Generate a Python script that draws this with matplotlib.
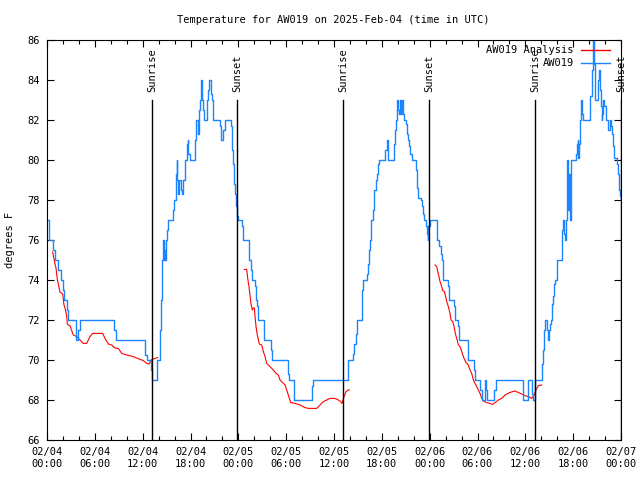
import numpy as np, pandas as pd
import matplotlib; matplotlib.use("Agg")
import matplotlib.pyplot as plt
import matplotlib.dates as mdates

# station observations (hours after 2025-02-04 00:00 UTC, deg F), drawn as steps
obs_hours = [0.00, 0.19, 0.31, 0.79, 0.97, 1.42, 1.72, 1.97, 2.13, 2.47, 2.63, 3.64, 3.93, 4.14,
             8.40, 8.66, 12.26, 12.33, 12.51, 13.05, 13.21, 13.84, 14.14, 14.21, 14.30, 14.47,
             14.59, 14.68, 14.76, 14.85, 14.93, 15.05, 15.22, 15.85, 15.97, 16.14, 16.27, 16.35,
             16.47, 16.60, 16.77, 16.90, 17.10, 17.31, 17.52, 17.65, 17.73, 17.94, 18.57, 18.65,
             18.98, 19.10, 19.19, 19.32, 19.40, 19.48, 19.61, 19.73, 20.11, 20.24, 20.36, 20.53,
             20.66, 20.78, 20.86, 21.70, 21.83, 22.12, 22.33, 23.04, 23.17, 23.29, 23.42, 23.58,
             23.71, 23.87, 24.00, 24.42, 24.55, 25.38, 25.55, 25.68, 26.09, 26.22, 26.38, 26.51,
             27.26, 28.10, 28.26, 30.19, 30.32, 30.98, 33.24, 33.41, 37.80, 38.42, 38.55, 38.72,
             38.85, 38.93, 39.48, 39.55, 39.68, 40.18, 40.31, 40.39, 40.52, 40.64, 40.93, 41.06,
             41.23, 41.36, 41.48, 41.65, 42.40, 42.61, 42.74, 42.82, 43.57, 43.65, 43.74, 43.86,
             43.94, 44.07, 44.19, 44.32, 44.41, 44.49, 44.70, 44.82, 45.00, 45.12, 45.25, 45.41,
             45.54, 45.75, 46.29, 46.38, 46.50, 46.92, 47.08, 47.21, 47.33, 47.50, 47.63, 47.76,
             47.84, 48.05, 48.96, 49.21, 49.38, 49.51, 49.72, 50.34, 50.43, 51.06, 51.18, 51.52,
             51.64, 52.77, 53.56, 53.69, 54.32, 54.53, 54.94, 55.07, 55.23, 56.11, 56.29, 59.67,
             59.75, 60.38, 60.80, 60.93, 61.15, 62.13, 62.26, 62.38, 62.47, 62.76, 62.86, 62.97,
             63.10, 63.22, 63.39, 63.52, 63.64, 63.72, 63.93, 64.01, 64.56, 64.64, 64.77, 64.89,
             64.98, 65.06, 65.18, 65.31, 65.39, 65.52, 65.61, 65.73, 66.32, 66.44, 66.57, 66.65,
             66.73, 66.86, 66.98, 67.07, 67.15, 67.27, 68.11, 68.33, 68.45, 68.57, 68.65, 68.74,
             69.08, 69.24, 69.37, 69.50, 69.58, 69.66, 69.78, 69.91, 70.08, 70.33, 70.62, 70.74,
             70.91, 71.04, 71.16, 71.46, 71.66, 71.79, 71.87, 72.00]
obs_temp = [77, 76.5, 76, 75.5, 75, 74.5, 74, 73.5, 73, 72.5, 72, 71, 71.5, 72,
            71.5, 71, 70.75, 70.25, 70, 69.5, 69, 70, 70.5, 71.5, 73, 75,
            76, 75, 75.5, 75, 76, 76.5, 77, 77.5, 78, 79.3, 80, 79,
            78.3, 79, 78.5, 78.3, 79, 80, 80.8, 81, 80.3, 80, 81, 82,
            81.3, 82.5, 83, 84, 83.5, 83, 82.5, 82, 83, 83.5, 84, 83.3,
            83, 82.5, 82, 81.7, 81, 81.5, 82, 81.7, 80.5, 79.8, 78.8, 78.3,
            77.7, 77.2, 77, 76.7, 76, 75, 74.5, 74, 73.7, 73, 72.7, 72,
            71, 70.5, 70, 69.3, 69, 68, 68.7, 69, 70, 70.3, 70.8, 71.3,
            71.8, 72, 72.5, 73.5, 74, 74.3, 74.8, 75.5, 76, 77, 77.5, 78.5,
            79, 79.3, 79.8, 80, 80.5, 81, 80.5, 80, 80.8, 81.5, 82, 82.5,
            83, 82.5, 82.3, 83, 82.3, 83, 82.3, 82, 81.8, 81.3, 81, 80.7,
            80.3, 80, 79.5, 78.6, 78.1, 78, 77.7, 77.3, 77, 76.7, 76.3, 76,
            76.7, 77, 76, 75.7, 75.3, 75, 74, 73.7, 73, 72.7, 72, 71.7,
            71, 70, 69.5, 69, 68.5, 68, 69, 68.5, 68, 68.5, 69, 68.5,
            68, 69, 68.3, 68, 69, 69.8, 70.5, 71.5, 72, 71.5, 71, 71.5,
            71.8, 72, 72.8, 73.2, 73.8, 74, 74.7, 75, 75.5, 76.5, 77, 76.3,
            76, 77, 80, 79.3, 77.5, 79.3, 77, 80, 80.3, 80.8, 81, 80.1,
            80.8, 82, 83, 82.7, 82.3, 82, 83.2, 84.5, 86, 86.5, 84.8, 83,
            84, 84.5, 83.5, 82.7, 82, 82.3, 83, 82.7, 82, 81.5, 82, 81.7,
            81.3, 80.7, 80.1, 79.8, 79.3, 78.5, 78.2, 78]

# analysis (three overnight pieces)
ana1_hours = [0.71, 1.00, 1.13, 1.30, 1.42, 1.63, 1.97, 2.13, 2.26, 2.47, 2.55, 2.89, 3.30, 3.73,
              4.14, 4.56, 4.98, 5.39, 5.73, 6.98, 7.28, 7.69, 8.12, 8.53, 8.95, 9.37, 10.00,
              10.83, 11.67, 12.08, 12.51, 12.80, 13.05, 13.55, 13.89]
ana1_temp = [75.4, 74.8, 74.6, 74.0, 73.8, 73.4, 73.3, 72.75, 72.6, 72.2, 71.8, 71.7, 71.25, 71.17,
             71.0, 70.83, 70.83, 71.17, 71.33, 71.33, 71.08, 70.8, 70.75, 70.6, 70.58, 70.33, 70.25,
             70.17, 70.03, 69.97, 69.83, 69.8, 70.0, 70.08, 70.12]
ana2_hours = [24.75, 25.05, 25.17, 25.34, 25.47, 25.59, 25.76, 25.88, 26.01, 26.09, 26.22, 26.38,
              26.63, 26.93, 27.14, 27.35, 27.56, 27.97, 28.39, 28.73, 29.02, 29.23, 29.56, 29.86,
              30.07, 30.27, 30.57, 31.11, 31.74, 32.36, 32.78, 33.83, 34.25, 34.66, 35.09, 35.50,
              36.13, 36.54, 36.84, 37.01, 37.26, 37.51, 37.80, 37.92]
ana2_temp = [74.53, 74.53, 74.1, 73.67, 73.2, 72.8, 72.5, 72.6, 72.6, 72.2, 71.67, 71.25,
             70.8, 70.75, 70.42, 70.17, 69.83, 69.67, 69.5, 69.33, 69.25, 69.0, 68.87, 68.75,
             68.5, 68.25, 67.87, 67.83, 67.75, 67.62, 67.58, 67.58, 67.75, 67.92, 68.0, 68.08,
             68.08, 68.0, 67.92, 67.83, 68.17, 68.42, 68.5, 68.5]
ana3_hours = [48.67, 48.89, 49.01, 49.17, 49.30, 49.51, 49.64, 49.84, 50.01, 50.14, 50.34, 50.55,
              50.68, 50.89, 51.06, 51.22, 51.39, 51.60, 51.81, 52.02, 52.31, 52.56, 52.85, 53.06,
              53.27, 53.48, 53.69, 53.90, 54.10, 54.32, 54.53, 54.73, 55.16, 55.57, 55.91, 56.20,
              56.61, 57.04, 57.45, 58.08, 58.71, 59.12, 59.55, 59.96, 60.38, 60.80, 61.09, 61.34,
              61.63, 62.05]
ana3_temp = [74.75, 74.67, 74.42, 74.17, 73.92, 73.67, 73.47, 73.42, 73.17, 72.92, 72.67, 72.33,
             72.0, 71.92, 71.67, 71.33, 71.08, 70.75, 70.67, 70.42, 70.08, 69.87, 69.75, 69.5,
             69.33, 69.0, 68.83, 68.67, 68.5, 68.33, 68.08, 67.95, 67.87, 67.83, 67.78, 67.87,
             68.0, 68.08, 68.25, 68.38, 68.45, 68.37, 68.3, 68.22, 68.17, 68.08, 68.25, 68.5,
             68.72, 68.75]

sunrise_hours = [13.20, 37.17, 61.27]
sunset_hours = [23.87, 47.97, 72.00]

t0 = pd.Timestamp("2025-02-04 00:00")
def to_time(h):
    return t0 + pd.to_timedelta(np.asarray(h), unit="h")

plt.rcParams["font.family"] = ["DejaVu Sans Mono"]
plt.rcParams["font.size"] = 7.5

fig = plt.figure(figsize=(6.4, 4.8), dpi=100)
ax = fig.add_axes([47/640, 40/480, 574/640, 400/480])

red, blue = "#ff0000", "#1a85ff"
for h, t in [(ana1_hours, ana1_temp), (ana2_hours, ana2_temp), (ana3_hours, ana3_temp)]:
    ax.plot(to_time(h), t, color=red, lw=0.8)
ax.plot(to_time(obs_hours), obs_temp, color=blue, lw=1.0, drawstyle="steps-post")

for hrs, name in [(sunrise_hours, "Sunrise"), (sunset_hours, "Sunset")]:
    for h in hrs:
        tt = to_time(h)
        ax.plot([tt, tt], [66, 83], color="k", lw=1.0, zorder=5)
        ax.text(tt, 83.4, name, rotation=90, ha="center", va="bottom", clip_on=False)

ax.set_xlim(to_time(0), to_time(72))
ax.set_ylim(66, 86)
ax.set_yticks(np.arange(66, 87, 2))
ax.xaxis.set_major_locator(mdates.HourLocator(byhour=range(0, 24, 6)))
ax.xaxis.set_minor_locator(mdates.HourLocator(interval=2))
ax.xaxis.set_major_formatter(mdates.DateFormatter("%m/%d\n%H:%M"))
ax.tick_params(which="both", direction="in", top=True, right=True, width=0.8)
ax.tick_params(which="major", length=5, pad=5)
ax.tick_params(which="minor", length=3)
for s in ax.spines.values():
    s.set_linewidth(0.8)

ax.set_ylabel("degrees F")
ax.yaxis.set_label_coords(-0.055, 0.5)
fig.text(333/640, 1 - 20/480, "Temperature for AW019 on 2025-Feb-04 (time in UTC)",
         ha="center", va="center")

# gnuplot-style key, top right
for row, (lab, col) in enumerate([("AW019 Analysis", red), ("AW019", blue)]):
    yk = 0.975 - row * 0.0325
    ax.text(0.918, yk, lab, transform=ax.transAxes, ha="right", va="center")
    ax.plot([0.930, 0.981], [yk, yk], color=col, lw=1.0, transform=ax.transAxes)

fig.savefig("out.png", dpi=100)
